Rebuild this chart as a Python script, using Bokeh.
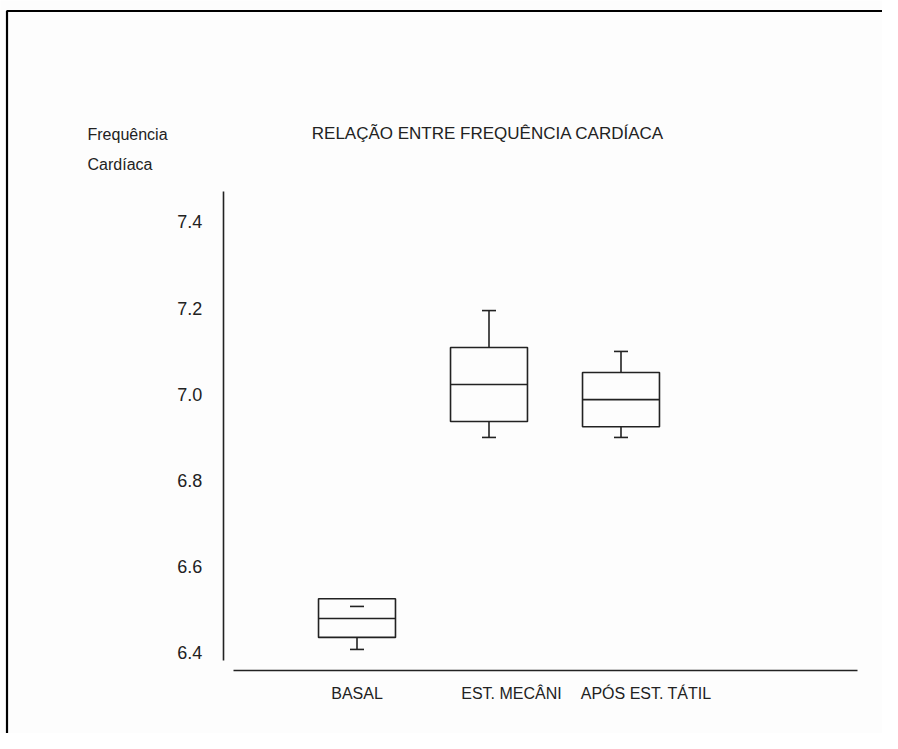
from bokeh.plotting import figure
from bokeh.models import (FixedTicker, PrintfTickFormatter, Label,
                          Range1d, ColumnDataSource)
from bokeh.embed import file_html
from bokeh.resources import INLINE
import numpy as np

# ---- data ----
categories = ["BASAL", "EST. MECÂNI", "APÓS EST. TÁTIL"]
lower_whisker = [6.406, 6.899, 6.899]
q1 = [6.434, 6.936, 6.924]
median = [6.478, 7.022, 6.987]
q3 = [6.524, 7.108, 7.050]
upper_whisker = [6.506, 7.194, 7.099]
y_ticks = [6.4, 6.6, 6.8, 7.0, 7.2, 7.4]

title_text = "RELAÇÃO ENTRE FREQUÊNCIA CARDÍACA"
ylabel_lines = ["Frequência", "Cardíaca"]

# ---- styling ----
FONT = "Liberation Sans"
INK = "#222222"
BG = "#fdfdfd"
BOX_W = 0.583
CAP_W = 0.106
LABEL_SHIFT = [0.0, 0.17, 0.19]   # visual offset of the category labels

xs = np.arange(1, len(categories) + 1, dtype=float)
src = ColumnDataSource(dict(
    x=xs, lo=lower_whisker, q1=q1, med=median, q3=q3, hi=upper_whisker,
    xl=xs - BOX_W / 2, xr=xs + BOX_W / 2,
    cl=xs - CAP_W / 2, cr=xs + CAP_W / 2,
    hi_top=np.maximum(np.array(upper_whisker), np.array(q3)),
))

p = figure(width=882, height=733, output_backend="svg", toolbar_location=None,
           y_axis_location="right", x_axis_location="above",
           x_range=Range1d(-1.7008, 4.9811), y_range=Range1d(6.2105, 7.9151),
           min_border_left=0, min_border_right=0, min_border_top=0,
           min_border_bottom=0)
p.background_fill_color = BG
p.border_fill_color = BG
p.outline_line_color = None
p.xgrid.visible = False
p.ygrid.visible = False

# outer frame of the picture (only its top and left edges fall inside the view)
p.quad(left=[-1.6515], right=[20.0], top=[7.8907], bottom=[0.0],
       fill_color=None, line_color="black", line_width=2.2)

# boxes
p.quad(left="xl", right="xr", bottom="q1", top="q3", source=src,
       fill_color=None, line_color=INK, line_width=1.6)
p.segment(x0="xl", x1="xr", y0="med", y1="med", source=src, line_color=INK, line_width=1.6)
# whiskers
p.segment(x0="x", x1="x", y0="q3", y1="hi_top", source=src, line_color=INK, line_width=1.6)
p.segment(x0="x", x1="x", y0="lo", y1="q1", source=src, line_color=INK, line_width=1.6)
p.segment(x0="cl", x1="cr", y0="hi", y1="hi", source=src, line_color=INK, line_width=1.6)
p.segment(x0="cl", x1="cr", y0="lo", y1="lo", source=src, line_color=INK, line_width=1.6)

# y axis (drawn at a fixed position, labels to its left)
ya = p.yaxis[0]
ya.fixed_location = -0.0136
ya.ticker = FixedTicker(ticks=y_ticks)
ya.formatter = PrintfTickFormatter(format="%.1f")
ya.bounds = (6.380, 7.471)
ya.major_tick_out = 0
ya.major_tick_in = 0
ya.minor_tick_out = 0
ya.minor_tick_in = 0
ya.major_label_standoff = -46
ya.major_label_text_font = FONT
ya.major_label_text_font_size = "18px"
ya.major_label_text_color = INK
ya.axis_line_color = INK
ya.axis_line_width = 1.6

# x axis (drawn at a fixed position, labels below it)
xa = p.xaxis[0]
xa.fixed_location = 6.3570
tick_pos = [float(x) + s for x, s in zip(xs, LABEL_SHIFT)]
xa.ticker = FixedTicker(ticks=tick_pos)
xa.major_label_overrides = {t: c for t, c in zip(tick_pos, categories)}
xa.bounds = (0.0644, 4.7917)
xa.major_tick_out = 0
xa.major_tick_in = 0
xa.minor_tick_out = 0
xa.minor_tick_in = 0
xa.major_label_standoff = -31
xa.major_label_text_font = FONT
xa.major_label_text_font_size = "16px"
xa.major_label_text_color = INK
xa.axis_line_color = INK
xa.axis_line_width = 1.6

# title and y label
p.add_layout(Label(x=1.992, y=7.6058, text=title_text, text_align="center",
                   text_baseline="alphabetic", text_font=FONT,
                   text_font_size="17px", text_color=INK))
p.add_layout(Label(x=-1.0417, y=7.6035, text=ylabel_lines[0], text_align="left",
                   text_baseline="alphabetic", text_font=FONT,
                   text_font_size="16px", text_color=INK))
p.add_layout(Label(x=-1.0417, y=7.5337, text=ylabel_lines[1], text_align="left",
                   text_baseline="alphabetic", text_font=FONT,
                   text_font_size="16px", text_color=INK))

open("out.html", "w").write(file_html(p, INLINE))
